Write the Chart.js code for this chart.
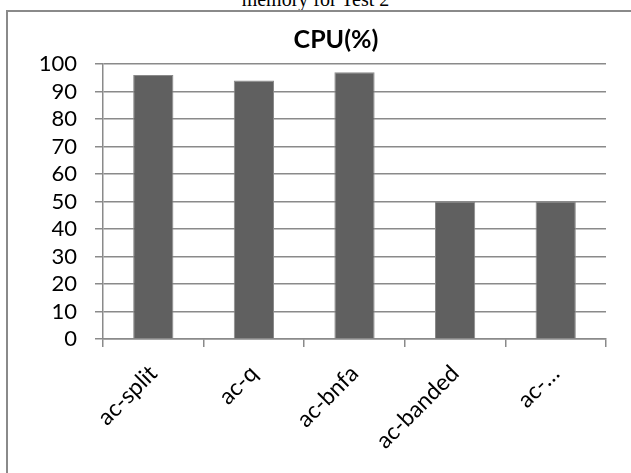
<!DOCTYPE html>
<html lang="en">
<head>
  <meta charset="UTF-8" />
  <title>CPU(%)</title>
  <script src="https://cdn.jsdelivr.net/npm/chart.js"></script>
  <style>
    html, body {
      margin: 0;
      padding: 0;
      width: 631px;
      height: 473px;
      overflow: hidden;
      background: #fff;
    }
    .caption {
      position: absolute;
      left: 0;
      top: -11px;
      width: 631px;
      text-align: center;
      font-family: "Liberation Serif", serif;
      font-size: 20px;
      line-height: 20px;
      color: #000;
    }
    .frame {
      position: absolute;
      left: 6px;
      top: 10px;
      width: 660px;
      height: 500px;
      border: 2px solid #8a8a8a;
    }
    .box {
      position: absolute;
      left: 0;
      top: 0;
      width: 672px;
      height: 473px;
    }
  </style>
</head>
<body>
  <div class="caption">memory for Test 2</div>
  <div class="frame"></div>
  <div class="box"><canvas id="cpuChart" width="672" height="473"></canvas></div>

  <script>
    // data
    const categories = ["ac-split", "ac-q", "ac-bnfa", "ac-banded", "ac-…"];
    const cpuValues = [96, 94, 97, 50, 50];
    const yTicks = [0, 10, 20, 30, 40, 50, 60, 70, 80, 90, 100];

    const gridGray = "#8a8a8a";
    const font = "Lato, 'Open Sans', sans-serif";

    const ctx = document.getElementById("cpuChart").getContext("2d");
    new Chart(ctx, {
      type: "bar",
      data: {
        labels: categories,
        datasets: [{
          label: "CPU(%)",
          data: cpuValues,
          backgroundColor: "#606060",
          borderColor: "#8a8a8a",
          borderWidth: 1,
          barPercentage: 0.4,
          categoryPercentage: 1,
        }],
      },
      options: {
        responsive: false,
        animation: false,
        layout: { padding: 0 },
        plugins: {
          legend: { display: false },
          tooltip: { enabled: false },
          title: {
            display: true,
            text: "CPU(%)",
            color: "#000",
            font: { family: font, size: 25, weight: "bold" },
            padding: { top: 25, bottom: 9 },
          },
        },
        scales: {
          x: {
            grid: {
              drawOnChartArea: false,
              drawTicks: true,
              tickLength: 8,
              color: gridGray,
              lineWidth: 1.5,
            },
            border: { color: gridGray, width: 1.5 },
            ticks: {
              color: "#000",
              font: { family: font, size: 23 },
              maxRotation: 45,
              minRotation: 45,
              autoSkip: false,
              padding: 13,
            },
            afterFit: (scale) => { scale.height = 134; },
          },
          y: {
            min: 0,
            max: 100,
            afterBuildTicks: (scale) => { scale.ticks = yTicks.map((v) => ({ value: v })); },
            grid: {
              color: gridGray,
              lineWidth: 1.5,
              tickLength: 8,
            },
            border: { color: gridGray, width: 1.5 },
            ticks: {
              color: "#000",
              font: { family: font, size: 22 },
              autoSkip: false,
              padding: 18,
            },
            afterFit: (scale) => { scale.width = 103; },
          },
          // empty right-hand strip so the title centres where the reference has it
          spacer: {
            position: "right",
            grid: { display: false },
            border: { display: false },
            ticks: { display: false },
            afterFit: (scale) => { scale.width = 66; },
          },
        },
      },
    });
  </script>
</body>
</html>
